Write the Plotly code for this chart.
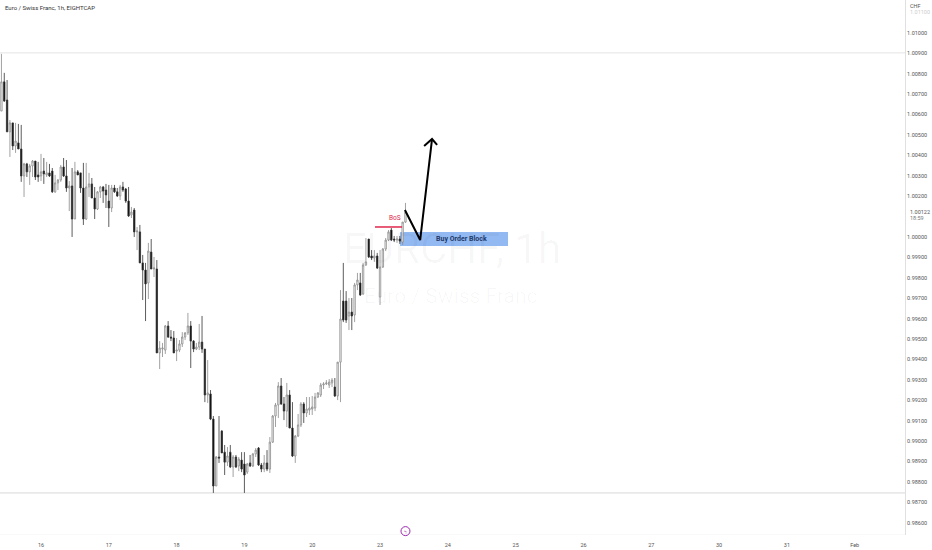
import plotly.graph_objects as go

bar_index = list(range(-14, 130))

opens = [1.00617,1.00760,1.00671,1.00515,1.00559,1.00446,1.00461,1.00431,1.00299,1.00358,1.00319,1.00348,
1.00372,1.00304,1.00299,1.00323,1.00304,1.00314,1.00323,1.00221,1.00265,1.00279,1.00343,1.00299,
1.00240,1.00250,1.00088,1.00319,1.00314,1.00240,1.00088,1.00245,1.00260,1.00191,1.00137,1.00221,
1.00245,1.00230,1.00176,1.00142,1.00240,1.00221,1.00201,1.00245,1.00235,1.00176,1.00108,1.00132,
1.00025,1.00025,0.99873,0.99838,0.99775,0.99926,0.99843,0.99843,0.99432,0.99451,0.99446,0.99564,
0.99510,0.99505,0.99441,0.99446,0.99476,0.99510,0.99530,0.99564,0.99490,0.99451,0.99461,0.99485,
0.99451,0.99226,0.99231,0.99108,0.98780,0.98922,0.99049,0.98946,0.98897,0.98946,0.98873,0.98922,
0.98878,0.98907,0.98888,0.98848,0.98893,0.98878,0.98937,0.98966,0.98883,0.98863,0.98893,0.98863,
0.98995,0.99123,0.99177,0.99270,0.99182,0.99147,0.99226,0.99064,0.98927,0.99025,0.99079,0.99182,
0.99138,0.99152,0.99157,0.99162,0.99216,0.99226,0.99275,0.99280,0.99275,0.99285,0.99265,0.99221,
0.99387,0.99686,0.99686,0.99613,0.99632,0.99618,0.99765,0.99775,0.99721,0.99863,0.99990,0.99907,
0.99897,0.99907,0.99706,0.99853,0.99941,0.99985,1.00034,0.99990,0.99985,0.99990,0.99975,1.00073]

highs = [1.00897,1.00804,1.00769,1.00573,1.00559,1.00559,1.00554,1.00549,1.00363,1.00363,1.00358,1.00377,
1.00372,1.00368,1.00407,1.00387,1.00368,1.00358,1.00338,1.00304,1.00284,1.00353,1.00387,1.00377,
1.00274,1.00338,1.00368,1.00328,1.00314,1.00363,1.00363,1.00314,1.00289,1.00245,1.00225,1.00250,
1.00250,1.00260,1.00255,1.00255,1.00255,1.00240,1.00255,1.00270,1.00240,1.00245,1.00147,1.00142,
1.00049,1.00059,0.99912,0.99873,0.99971,0.99990,0.99902,0.99887,0.99490,0.99481,0.99569,0.99588,
0.99544,0.99539,0.99505,0.99495,0.99534,0.99534,0.99628,0.99588,0.99495,0.99481,0.99574,0.99613,
0.99451,0.99397,0.99250,0.99123,0.98927,0.99123,0.99054,0.98981,0.98971,0.98981,0.98932,0.98932,
0.98922,0.98946,0.98946,0.98893,0.98932,0.98942,0.98966,0.98971,0.98893,0.98932,0.98956,0.99020,
0.99128,0.99187,0.99289,0.99309,0.99216,0.99285,0.99250,0.99191,0.99030,0.99133,0.99191,0.99191,
0.99216,0.99216,0.99221,0.99236,0.99240,0.99285,0.99289,0.99299,0.99304,0.99309,0.99309,0.99387,
0.99740,0.99873,0.99735,0.99701,0.99701,0.99775,0.99824,0.99824,0.99873,0.99995,0.99990,0.99936,
0.99936,0.99922,0.99936,0.99946,0.99995,1.00034,1.00044,1.00005,1.00005,1.00005,1.00073,1.00167]

lows = [1.00617,1.00662,1.00515,1.00392,1.00426,1.00412,1.00431,1.00270,1.00196,1.00294,1.00255,1.00294,
1.00279,1.00270,1.00274,1.00260,1.00294,1.00294,1.00216,1.00216,1.00230,1.00270,1.00294,1.00221,
1.00127,1.00000,1.00088,1.00304,1.00216,1.00059,1.00083,1.00196,1.00191,1.00088,1.00132,1.00191,
1.00167,1.00142,1.00049,1.00122,1.00216,1.00196,1.00181,1.00221,1.00167,1.00098,1.00093,1.00000,
0.99936,0.99873,0.99691,0.99588,0.99696,0.99843,0.99804,0.99432,0.99353,0.99412,0.99427,0.99505,
0.99490,0.99432,0.99392,0.99436,0.99461,0.99495,0.99520,0.99358,0.99436,0.99446,0.99446,0.99432,
0.99191,0.99187,0.99103,0.98746,0.98780,0.98893,0.98942,0.98834,0.98878,0.98868,0.98824,0.98868,
0.98853,0.98848,0.98746,0.98839,0.98873,0.98873,0.98922,0.98878,0.98848,0.98848,0.98853,0.98844,
0.98991,0.99069,0.99113,0.99177,0.99103,0.99069,0.99064,0.98922,0.98893,0.99020,0.99069,0.99089,
0.99118,0.99128,0.99128,0.99147,0.99211,0.99216,0.99255,0.99275,0.99260,0.99265,0.99216,0.99201,
0.99191,0.99583,0.99579,0.99544,0.99544,0.99583,0.99740,0.99711,0.99716,0.99858,0.99897,0.99887,
0.99878,0.99843,0.99667,0.99848,0.99931,0.99980,0.99980,0.99975,0.99971,0.99966,0.99961,1.00069]

closes = [1.00760,1.00666,1.00515,1.00559,1.00446,1.00470,1.00431,1.00299,1.00358,1.00319,1.00348,1.00372,
1.00294,1.00294,1.00319,1.00309,1.00314,1.00299,1.00221,1.00265,1.00279,1.00343,1.00299,1.00240,
1.00250,1.00088,1.00319,1.00304,1.00240,1.00088,1.00245,1.00260,1.00191,1.00137,1.00221,1.00245,
1.00225,1.00206,1.00142,1.00240,1.00221,1.00201,1.00245,1.00230,1.00176,1.00103,1.00122,1.00025,
1.00029,0.99873,0.99838,0.99770,0.99931,0.99843,0.99848,0.99432,0.99456,0.99456,0.99564,0.99510,
0.99505,0.99432,0.99446,0.99476,0.99510,0.99530,0.99564,0.99490,0.99451,0.99461,0.99485,0.99451,
0.99226,0.99236,0.99108,0.98780,0.98922,0.98917,0.98942,0.98897,0.98927,0.98873,0.98922,0.98873,
0.98912,0.98863,0.98834,0.98888,0.98878,0.98937,0.98956,0.98883,0.98863,0.98893,0.98863,0.98995,
0.99123,0.99177,0.99270,0.99182,0.99147,0.99226,0.99064,0.98927,0.99025,0.99079,0.99182,0.99138,
0.99157,0.99162,0.99167,0.99216,0.99236,0.99275,0.99280,0.99285,0.99289,0.99299,0.99221,0.99387,
0.99598,0.99593,0.99593,0.99632,0.99613,0.99765,0.99789,0.99716,0.99863,0.99878,0.99902,0.99897,
0.99907,0.99848,0.99853,0.99941,0.99985,1.00025,0.99985,0.99985,0.99990,0.99980,1.00073,1.00122]

y_ticks = [0.986,0.987,0.988,0.989,0.990,0.991,0.992,0.993,0.994,0.995,0.996,0.997,0.998,0.999,
           1.000,1.002,1.003,1.004,1.005,1.006,1.007,1.008,1.009,1.010]
x_tick_pos = [0,24,48,72,96,120,144,168,192,216,240,264,288]
x_tick_lab = ["16","17","18","19","20","23","24","25","26","27","30","31","Feb"]

arrow_x = [128.8,134.2,138.4]
arrow_y = [1.00132,0.99985,1.00480]
head_x = [135.6,138.4,140.2]
head_y = [1.00446,1.00480,1.00451]
bos_x = [118.2,127.8]
bos_y = [1.00049,1.00049]

W, H = 932, 550
PW, PH = 905, 535
fig = go.Figure()
fig.add_trace(go.Candlestick(
    x=bar_index, open=opens, high=highs, low=lows, close=closes,
    increasing=dict(line=dict(color="#8a8a8a", width=0.8), fillcolor="#ffffff"),
    decreasing=dict(line=dict(color="#333333", width=0.8), fillcolor="#000000"),
    whiskerwidth=0, showlegend=False))
fig.add_trace(go.Scatter(x=arrow_x, y=arrow_y, mode="lines", line=dict(color="#000", width=2), showlegend=False))
fig.add_trace(go.Scatter(x=head_x, y=head_y, mode="lines", line=dict(color="#000", width=2), showlegend=False))
fig.add_trace(go.Scatter(x=bos_x, y=bos_y, mode="lines", line=dict(color="#e0274b", width=1.5), showlegend=False))
fig.add_trace(go.Scatter(x=[129], y=[0.98559], mode="markers", cliponaxis=False,
    marker=dict(symbol="circle-open", size=9, color="#9c27b0", line=dict(width=1, color="#9c27b0")), showlegend=False))

fig.add_shape(type="rect", x0=127.1, x1=165.3, y0=0.99956, y1=1.00025, fillcolor="#93b9f2",
              line_width=0, layer="below")
fig.add_shape(type="line", xref="paper", x0=0, x1=1, y0=1.00902, y1=1.00902, line=dict(color="#e4e4e4", width=1), layer="below")
fig.add_shape(type="line", xref="paper", x0=0, x1=1, y0=0.98746, y1=0.98746, line=dict(color="#d8d8d8", width=1), layer="below")
fig.add_shape(type="line", xref="paper", x0=0, x1=1, y0=0.98540, y1=0.98540, line=dict(color="#f2f2f2", width=1), layer="below")

def note(x, y, s, size, color, **kw):
    fig.add_annotation(x=x/PW, y=1-y/PH, xref="paper", yref="paper", text=s, showarrow=False,
                       font=dict(size=size, color=color, family=kw.pop("family", "Roboto")),
                       xanchor=kw.pop("xanchor", "center"), yanchor="middle", **kw)

note(452, 248, "EURCHF, 1h", 42, "rgba(0,0,0,0.03)")
note(451, 296, "Euro / Swiss Franc", 21, "rgba(0,0,0,0.03)")
note(3, 7, "Euro / Swiss Franc, 1h, EIGHTCAP", 6, "#333333", xanchor="left")
note(395, 218, "BoS", 6.5, "#e0274b")
note(461, 239, "<b>Buy Order Block</b>", 7, "#1f3a6b")
note(405, 531, "ϟ", 6, "#9c27b0")
note(908, 6, "CHF", 5.5, "#555555", xanchor="left")
note(908, 12, "1.01100", 5.5, "#cccccc", xanchor="left")
note(908, 212, "1.00122", 5.5, "#555555", xanchor="left")
note(908, 218, "18:59", 5.5, "#777777", xanchor="left")

fig.update_layout(
    width=W, height=H, paper_bgcolor="#fff", plot_bgcolor="#fff",
    margin=dict(l=0, r=27, t=0, b=15, autoexpand=False),
    xaxis=dict(range=[-14.51, 305.8], rangeslider=dict(visible=False), showgrid=False, zeroline=False,
               tickvals=x_tick_pos, ticktext=x_tick_lab, tickfont=dict(size=5.5, color="#555", family="Roboto"),
               ticks="outside", ticklen=4, tickcolor="rgba(0,0,0,0)", showline=False),
    yaxis=dict(range=[0.98540, 1.01161], side="right", showgrid=False, zeroline=False,
               tickvals=y_ticks, tickformat=".5f", tickfont=dict(size=5.5, color="#555", family="Roboto"),
               ticks="", showline=True, linecolor="#e0e0e0", linewidth=1),
)
fig.write_html("out.html", config={"displayModeBar": False},
               post_script="document.body.style.margin='0';document.documentElement.style.overflow='hidden';")
